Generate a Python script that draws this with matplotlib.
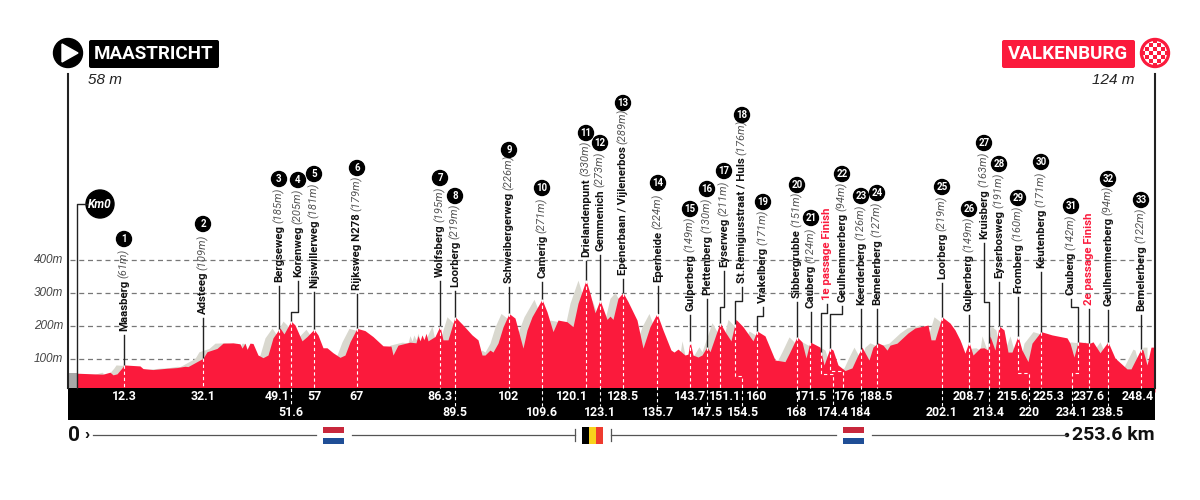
import numpy as np
import matplotlib
matplotlib.use("Agg")
import matplotlib.pyplot as plt
from matplotlib.patches import Circle, FancyBboxPatch, Polygon, Rectangle

FONT = ["Roboto", "Liberation Sans", "DejaVu Sans"]
RED = "#fb1a3c"
SHADOW = "#d9d8cf"

# route profile: position along the strip, altitude in m
profile_pos = [77, 93, 103, 110, 113, 117, 122, 124, 140, 143, 153, 167, 177, 185, 188, 203, 207, 217, 223, 233,
               240, 242, 245, 247, 250, 253, 258, 263, 268, 273, 280, 284, 291, 295, 302, 307, 314, 318, 323, 327,
               333, 340, 345, 350, 357, 365, 373, 383, 391, 393, 398, 410, 416, 418, 420, 422, 424, 426, 428, 435,
               440, 443, 448, 455, 463, 472, 478, 482, 485, 490, 493, 498, 503, 509, 515, 523, 527, 532, 542, 547,
               553, 558, 567, 573, 578, 586, 590, 595, 600, 607, 610, 613, 618, 623, 628, 637, 643, 650, 657, 663,
               671, 674, 678, 685, 688, 690, 693, 698, 702, 707, 710, 720, 725, 731, 736, 743, 753, 757, 765, 775,
               785, 790, 797, 802, 806, 810, 820, 824, 830, 833, 838, 845, 852, 857, 862, 869, 873, 878, 883, 887,
               890, 897, 908, 915, 928, 931, 935, 942, 950, 955, 960, 965, 969, 973, 980, 984, 988, 990, 995, 999,
               1004, 1008, 1012, 1018, 1022, 1028, 1032, 1041, 1052, 1067, 1070, 1074, 1078, 1090, 1093, 1100, 1108,
               1115, 1127, 1131, 1141, 1143, 1147, 1151, 1155]
profile_alt = [57, 55, 54, 60, 52, 55, 73, 82, 79, 71, 68, 72, 74, 78, 77, 102, 122, 132, 148, 149,
               146, 133, 148, 129, 148, 147, 112, 104, 112, 164, 194, 176, 215, 203, 155, 168, 190, 173, 134, 134,
               119, 105, 112, 152, 193, 186, 168, 140, 139, 112, 142, 151, 149, 171, 155, 173, 158, 178, 155, 168,
               200, 158, 158, 228, 203, 173, 158, 112, 112, 127, 121, 148, 197, 238, 224, 133, 188, 228, 281, 243,
               183, 218, 213, 198, 269, 339, 299, 240, 279, 220, 230, 220, 284, 301, 274, 218, 133, 198, 238, 188,
               127, 121, 130, 112, 115, 155, 112, 106, 112, 137, 122, 210, 183, 155, 220, 198, 155, 185, 170, 97,
               92, 122, 167, 152, 103, 152, 136, 82, 133, 127, 82, 65, 73, 106, 136, 97, 136, 149, 142, 127,
               142, 148, 179, 194, 203, 158, 158, 228, 209, 188, 158, 118, 152, 112, 133, 134, 127, 170, 127, 200,
               188, 121, 121, 170, 127, 92, 148, 183, 173, 164, 148, 106, 152, 148, 152, 119, 152,
               103, 70, 70, 130, 127, 82, 136, 136]

climb_names = ["Maasberg", "Adsteeg", "Bergseweg", "Korenweg", "Nijswillerweg", "Rijksweg N278", "Wolfsberg",
               "Loorberg", "Schweibergerweg", "Camerig", "Drielandenpunt", "Gemmenich",
               "Epenerbaan / Vijlenerbos", "Eperheide", "Gulperberg", "Plettenberg", "Eyserweg",
               "St.Remigiusstraat / Huls", "Vrakelberg", "Sibbergrubbe", "Cauberg", "1e passage Finish",
               "Geulhemmerberg", "Keerderberg", "Bemelerberg", "Loorberg", "Gulperberg", "Kruisberg",
               "Eyserbosweg", "Fromberg", "Keutenberg", "Cauberg", "2e passage Finish", "Geulhemmerberg",
               "Bemelerberg"]
climb_heights = ["61m", "109m", "185m", "205m", "181m", "179m", "195m", "219m", "226m", "271m", "330m", "273m",
                 "289m", "224m", "149m", "130m", "211m", "176m", "171m", "151m", "124m", None, "94m", "126m",
                 "127m", "219m", "149m", "163m", "191m", "160m", "171m", "142m", None, "94m", "122m"]
climb_km = ["12.3", "32.1", "49.1", "51.6", "57", "67", "86.3", "89.5", "102", "109.6", "120.1", "123.1", "128.5",
            "135.7", "143.7", "147.5", "151.1", "154.5", "160", "168", "171.5", "174.4", "176", "184", "188.5",
            "202.1", "208.7", "213.4", "215.6", "220", "225.3", "234.1", "237.6", "238.5", "248.4"]
alt_ticks = [100, 200, 300, 400]

# layout, image pixels
peak_x = [124, 203, 279, 291, 314, 357, 440, 455, 509, 542, 586, 600, 623, 657, 690, 707, 720, 735, 757, 797, 810,
          821, 830, 861, 877, 942, 969, 989, 999, 1018, 1041, 1078, 1089, 1108, 1141]
label_x = [124, 203, 279, 298, 314, 357, 440, 455, 509, 542, 586, 600, 623, 658, 690, 707, 724, 742, 763, 797, 811,
           827, 842, 861, 877, 942, 969, 984, 999, 1018, 1041, 1071, 1089, 1108, 1141]
text_bottom = [331, 314, 282, 277, 288, 290, 277, 287, 283, 278, 257, 251, 275, 282, 311, 295, 267, 283, 303, 298,
               308, 300, 302, 305, 305, 279, 311, 239, 278, 293, 268, 295, 305, 306, 311]
badge_y = [239, 224, 179, 180, 174, 168, 178, 196, 150, 188, 133, 143, 103, 183, 209, 189, 171, 115, 202, 185, 218,
           None, 174, 196, 193, 187, 209, 143, 164, 198, 162, 206, None, 179, 200]
km_x = [124, 203, 277, 291, 314, 357, 440, 455, 509, 542, 572, 600, 623, 658, 690, 707, 725, 743, 757, 797, 811,
        833, 845, 861, 877, 942, 969, 989, 1013, 1029, 1049, 1072, 1089, 1108, 1138]
km_row = [1, 1, 1, 2, 1, 1, 1, 2, 1, 2, 1, 2, 1, 2, 1, 2, 1, 2, 1, 2, 1, 2, 1, 2, 1, 2, 1, 2, 1, 2, 1, 2, 1, 2, 1]
stem_elbow = {3: 312, 16: 307, 17: 301, 18: 316, 21: 313, 22: 314, 27: 302, 31: 307}
dash_jog = {17: (376, 742), 21: (374, 833), 22: (371, 843), 29: (373, 1029), 31: (373, 1072)}

fig = plt.figure(figsize=(12, 5), dpi=100, facecolor="white")

# profile axes: y in metres
prof = fig.add_axes([0, 0, 1, 1])
prof.set_xlim(0, 1200)
prof.set_ylim(-108 / 0.33, 392 / 0.33)
prof.axis("off")
for a in alt_ticks:
    prof.plot([70, 1155], [a, a], color="#777777", lw=0.9, ls=(0, (4, 3)), zorder=1)
shadow_x = np.array(profile_pos) - 8
keep = shadow_x >= 77
prof.fill_between(shadow_x[keep], 0, np.array(profile_alt)[keep], color=SHADOW, lw=0, zorder=2)
prof.fill_between(profile_pos, 0, profile_alt, color=RED, lw=0, zorder=3)

# everything else in image pixels
ax = fig.add_axes([0, 0, 1, 1])
ax.set_xlim(0, 1200)
ax.set_ylim(500, 0)
ax.axis("off")
ax.patch.set_alpha(0)


def alt_to_y(x):
    return 392 - 0.33 * np.interp(x, profile_pos, profile_alt)


ax.add_patch(Rectangle((68, 373), 9, 15, color="#a8a8a8", lw=0))
ax.add_patch(Rectangle((68, 388), 1087, 32, color="black", lw=0))
ax.plot([68, 68], [74, 388], color="#222222", lw=1.5)
ax.plot([1155, 1155], [74, 388], color="#222222", lw=1.5)
ax.plot([77, 77, 90], [388, 204, 204], color="#222222", lw=1)
ax.add_patch(Circle((100, 204), 14, color="black"))
ax.text(100, 204.5, "Km0", color="white", family=FONT, weight="bold", style="italic", fontsize=8.5,
        ha="center", va="center")

for a in alt_ticks:
    ax.text(63, 392 - 0.33 * a, f"{a}m", family="Liberation Sans", style="italic", fontsize=8.5, color="#444444",
            ha="right", va="center")

# climbs
renderer = fig.canvas.get_renderer()
badge_no = 0
for i in range(len(climb_names)):
    px, lx = peak_x[i], label_x[i]
    top = alt_to_y(px)
    finish = climb_heights[i] is None
    t = ax.text(lx, text_bottom[i], climb_names[i], rotation=90, ha="center", va="bottom", family=FONT,
                weight="bold", fontsize=8.2, color=RED if finish else "#111111")
    h = t.get_window_extent(renderer).height
    if not finish:
        ax.text(lx, text_bottom[i] - h - 2, f"({climb_heights[i]})", rotation=90, ha="center", va="bottom",
                family=FONT, style="italic", fontsize=8, color="#555555")
    if badge_y[i] is not None:
        badge_no += 1
        ax.add_patch(Circle((lx, badge_y[i]), 7.5, color="black", zorder=5))
        ax.text(lx, badge_y[i] + 0.3, str(badge_no), color="white", family=FONT, weight="bold", fontsize=7,
                ha="center", va="center", zorder=6)

    # solid stem from the label to the profile
    stem_top = text_bottom[i] + 4
    if i in stem_elbow:
        ey = stem_elbow[i]
        ax.plot([lx, lx, px, px], [stem_top, ey, ey, top], color="#222222", lw=1)
    else:
        ax.plot([lx, lx], [stem_top, top], color="#222222", lw=1)

    # dashed drop through the profile to the km strip
    end = 406 if km_row[i] == 2 else 388
    if i in dash_jog:
        jy, jx = dash_jog[i]
        xs, ys = [px, px, jx, jx], [top, jy, jy, end]
    else:
        xs, ys = [px, px], [top, end]
    ax.plot(xs, ys, color="white", lw=0.8, ls=(0, (3, 2.5)))
    ax.text(km_x[i], 397 if km_row[i] == 1 else 412, climb_km[i], color="white", family=FONT, weight="bold",
            fontsize=8.9, ha="center", va="center", zorder=6)

# start and finish headers
ax.add_patch(Circle((68, 53), 14.5, color="black"))
ax.add_patch(Polygon([[62, 44], [62, 62], [78, 53]], color="white"))
ax.add_patch(FancyBboxPatch((91, 42), 126, 24, boxstyle="round,pad=2,rounding_size=2", color="black", lw=0))
ax.text(154, 54, "MAASTRICHT", color="white", family=FONT, weight="bold", fontsize=13.5, ha="center", va="center")
ax.text(88, 80, "58 m", family="Liberation Sans", style="italic", fontsize=11, color="#222222", va="center")

ax.add_patch(FancyBboxPatch((1004, 42), 129, 24, boxstyle="round,pad=2,rounding_size=2", color=RED, lw=0))
ax.text(1068, 54, "VALKENBURG", color="white", family=FONT, weight="bold", fontsize=13.5, ha="center", va="center")
ax.text(1135, 80, "124 m", family="Liberation Sans", style="italic", fontsize=11, color="#222222", ha="right",
        va="center")
flag = Circle((1155, 53), 14.5, color=RED)
ax.add_patch(flag)
for r in range(-3, 4):
    for c in range(-3, 4):
        if (r + c) % 2 == 0:
            sq = Rectangle((1155 + c * 4 - 2, 53 + r * 4 - 2), 4, 4, color="white", lw=0)
            ax.add_patch(sq)
            sq.set_clip_path(Circle((1155, 53), 12, transform=ax.transData))

# distance bar
ax.text(68, 435.5, "0", family=FONT, weight="bold", fontsize=15, color="#111111", va="center")
ax.text(84, 434.5, "›", family="Liberation Sans", weight="bold", fontsize=11, color="#111111", va="center")
ax.text(1155, 435.5, "253.6 km", family=FONT, weight="bold", fontsize=14, color="#111111", ha="right",
        va="center")
for x0, x1 in [(93, 316), (352, 575), (611, 836), (872, 1066)]:
    ax.plot([x0, x1], [435, 435], color="#555555", lw=0.9)
ax.plot([575, 575], [429, 441], color="#555555", lw=0.9)
ax.plot([611, 611], [429, 441], color="#555555", lw=0.9)
ax.add_patch(Circle((1067, 435), 1.5, color="#111111"))
for x0 in (323, 843):
    ax.add_patch(Rectangle((x0, 427), 21, 6, color="#c8283c", lw=0))
    ax.add_patch(Rectangle((x0, 438), 21, 6, color="#1f4e96", lw=0))
ax.add_patch(Rectangle((582, 427), 7, 17, color="black", lw=0))
ax.add_patch(Rectangle((589, 427), 7, 17, color="#f8d21c", lw=0))
ax.add_patch(Rectangle((596, 427), 7, 17, color="#ee3b2e", lw=0))

fig.savefig("out.png", dpi=100, facecolor="white")
